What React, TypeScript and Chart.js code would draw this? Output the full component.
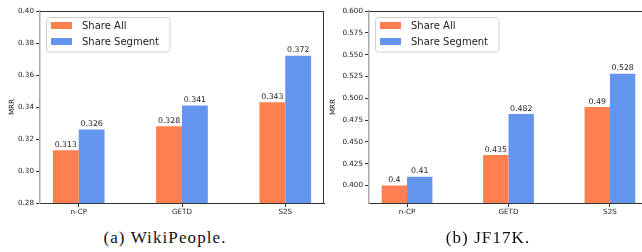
import React, { useEffect, useRef } from "react";
import { Chart, registerables } from "chart.js";

Chart.register(...registerables);

const categories = ["n-CP", "GETD", "S2S"];
const seriesNames = ["Share All", "Share Segment"];
const seriesColors = ["#FF7F50", "#6495ED"];

const wikiShareAll = [0.313, 0.328, 0.343];
const wikiShareSegment = [0.326, 0.341, 0.372];
const wikiYTicks = [0.28, 0.3, 0.32, 0.34, 0.36, 0.38, 0.4];
const wikiYRange = [0.28, 0.4];

const jfShareAll = [0.4, 0.435, 0.49];
const jfShareSegment = [0.41, 0.482, 0.528];
const jfYTicks = [0.4, 0.425, 0.45, 0.475, 0.5, 0.525, 0.55, 0.575, 0.6];
const jfYRange = [0.38, 0.6];

const captions = ["(a) WikiPeople.", "(b) JF17K."];

const FONT = "'DejaVu Sans', sans-serif";
const TEXT = "#222";

const framePlugin = {
  id: "frame",
  afterDatasetsDraw(chart: any) {
    const { ctx, chartArea } = chart;
    const { left, right, top, bottom } = chartArea;
    ctx.save();
    // value labels
    ctx.font = `7.8px ${FONT}`;
    ctx.fillStyle = TEXT;
    ctx.textAlign = "center";
    ctx.textBaseline = "bottom";
    chart.data.datasets.forEach((ds: any, di: number) => {
      const meta = chart.getDatasetMeta(di);
      meta.data.forEach((el: any, i: number) => {
        ctx.fillText(String(ds.data[i].y), el.x, el.y - 1.5);
      });
    });
    // top and right spines
    ctx.strokeStyle = "#333";
    ctx.lineWidth = 1;
    ctx.beginPath();
    ctx.moveTo(left, top + 0.5);
    ctx.lineTo(right, top + 0.5);
    ctx.moveTo(right - 0.5, top);
    ctx.lineTo(right - 0.5, bottom);
    ctx.stroke();
    // legend
    const lx = left + 6;
    const ly = top + 6;
    const lw = 124;
    const lh = 35;
    ctx.beginPath();
    const r = 3;
    ctx.moveTo(lx + r, ly + 0.5);
    ctx.arcTo(lx + lw, ly + 0.5, lx + lw, ly + lh, r);
    ctx.arcTo(lx + lw, ly + lh, lx, ly + lh, r);
    ctx.arcTo(lx + 0.5, ly + lh, lx + 0.5, ly, r);
    ctx.arcTo(lx + 0.5, ly + 0.5, lx + lw, ly + 0.5, r);
    ctx.closePath();
    ctx.fillStyle = "rgba(255,255,255,0.8)";
    ctx.fill();
    ctx.strokeStyle = "#d0d0d0";
    ctx.stroke();
    ctx.font = `10px ${FONT}`;
    ctx.textAlign = "left";
    ctx.textBaseline = "middle";
    chart.data.datasets.forEach((ds: any, di: number) => {
      const cy = ly + 8.5 + di * 16;
      ctx.fillStyle = ds.backgroundColor;
      ctx.fillRect(lx + 5, cy - 3.5, 21, 7);
      ctx.fillStyle = TEXT;
      ctx.fillText(ds.label, lx + 36, cy + 0.5);
    });
    ctx.restore();
  },
};

function makeConfig(
  allVals: number[],
  segVals: number[],
  yTicks: number[],
  yRange: number[],
  decimals: number,
  yWidth: number,
  padRight: number,
  titlePad: number
): any {
  const series = [allVals, segVals];
  return {
    type: "bar",
    data: {
      datasets: series.map((vals, si) => ({
        label: seriesNames[si],
        data: vals.map((v, i) => ({ x: i, y: v })),
        backgroundColor: seriesColors[si],
        borderWidth: 0,
        categoryPercentage: 0.5,
        barPercentage: 1.0,
      })),
    },
    options: {
      responsive: false,
      animation: false,
      devicePixelRatio: 1,
      layout: { padding: { left: 0, top: 11, right: padRight, bottom: 0 } },
      plugins: {
        legend: { display: false },
        tooltip: { enabled: false },
      },
      scales: {
        x: {
          type: "linear",
          min: -0.375,
          max: 2.375,
          offset: false,
          afterFit: (s: any) => {
            s.height = 15;
          },
          afterBuildTicks: (s: any) => {
            s.ticks = categories.map((_, i) => ({ value: i }));
          },
          ticks: {
            font: { family: FONT, size: 7.2 },
            color: TEXT,
            padding: 1,
            maxRotation: 0,
            autoSkip: false,
            callback: (v: any) => categories[Math.round(Number(v))] ?? "",
          },
          grid: {
            offset: false,
            drawOnChartArea: false,
            drawTicks: true,
            tickLength: 4,
            color: "#333",
          },
          border: { display: true, color: "#333", width: 1 },
        },
        y: {
          type: "linear",
          min: yRange[0],
          max: yRange[1],
          afterFit: (s: any) => {
            s.width = yWidth;
          },
          afterBuildTicks: (s: any) => {
            s.ticks = yTicks.map((v) => ({ value: v }));
          },
          ticks: {
            font: { family: FONT, size: 7.2 },
            color: TEXT,
            padding: 2,
            callback: (v: any) => Number(v).toFixed(decimals),
          },
          grid: {
            drawOnChartArea: false,
            drawTicks: true,
            tickLength: 4,
            color: "#333",
          },
          border: { display: true, color: "#aaa", width: 1.5 },
          title: {
            display: true,
            text: "MRR",
            font: { family: FONT, size: 7.2 },
            color: TEXT,
            padding: { top: titlePad, bottom: 0 },
          },
        },
      },
    },
    plugins: [framePlugin],
  };
}

function BarPanel(props: { left: number; width: number; config: any }) {
  const ref = useRef<HTMLCanvasElement | null>(null);
  useEffect(() => {
    if (!ref.current) return;
    const chart = new Chart(ref.current, props.config);
    return () => chart.destroy();
  }, []);
  return (
    <canvas
      ref={ref}
      width={props.width}
      height={218}
      style={{
        position: "absolute",
        left: props.left,
        top: 0,
        width: props.width,
        height: 218,
      }}
    />
  );
}

export default function App() {
  const leftConfig = makeConfig(
    wikiShareAll,
    wikiShareSegment,
    wikiYTicks,
    wikiYRange,
    2,
    40,
    6,
    8
  );
  const rightConfig = makeConfig(
    jfShareAll,
    jfShareSegment,
    jfYTicks,
    jfYRange,
    3,
    47,
    12,
    7
  );
  const captionStyle = (cx: number): React.CSSProperties => ({
    position: "absolute",
    left: cx - 150,
    width: 300,
    top: 228,
    textAlign: "center",
    fontFamily: "'Liberation Serif', 'DejaVu Serif', serif",
    fontSize: 17,
    letterSpacing: "1.1px",
    lineHeight: "20px",
    color: "#111",
    whiteSpace: "pre",
  });
  return (
    <div
      style={{
        position: "absolute",
        left: 0,
        top: 0,
        width: 642,
        height: 252,
        overflow: "hidden",
        background: "#fff",
      }}
    >
      <BarPanel left={0} width={330} config={leftConfig} />
      <BarPanel left={322} width={338} config={rightConfig} />
      <div style={captionStyle(165)}>{captions[0]}</div>
      <div style={captionStyle(488)}>{captions[1]}</div>
    </div>
  );
}
